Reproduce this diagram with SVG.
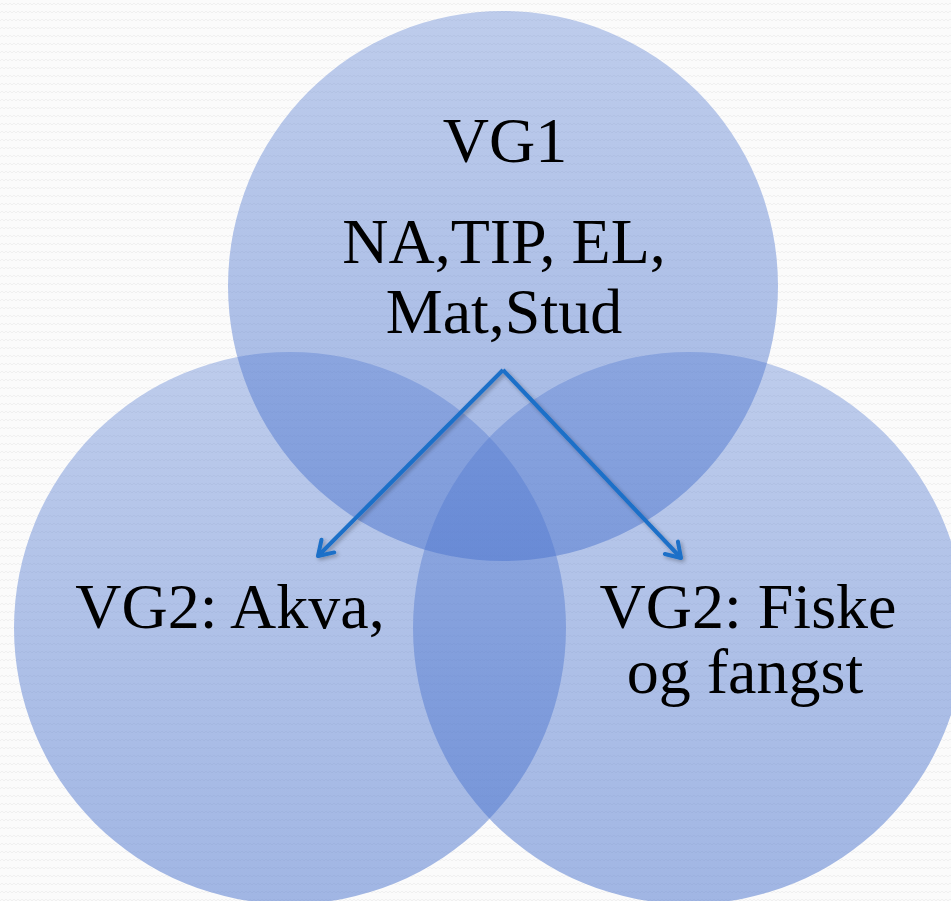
<svg xmlns="http://www.w3.org/2000/svg" width="951" height="901" viewBox="0 0 951 901">
  <defs>
    <pattern id="bgpat" width="8" height="8" patternUnits="userSpaceOnUse">
      <rect width="8" height="8" fill="#fbfbfb"/>
      <path d="M0,5 L2,3 L4,5 L6,3 L8,5" fill="none" stroke="#f0f0f0" stroke-width="1"/>
    </pattern>
    <linearGradient id="cg" x1="0" y1="0" x2="0" y2="1">
      <stop offset="0" stop-color="#5078d0" stop-opacity="0.36"/>
      <stop offset="1" stop-color="#4670cc" stop-opacity="0.5"/>
    </linearGradient>
    <marker id="arr" markerUnits="userSpaceOnUse" markerWidth="24" markerHeight="24" refX="20" refY="12" orient="auto">
      <path d="M6,3 L20,12 L6,21" fill="none" stroke="#1b6fc8" stroke-width="4" stroke-linecap="round" stroke-linejoin="round"/>
    </marker>
    <filter id="sh" x="-10%" y="-10%" width="120%" height="120%">
      <feGaussianBlur in="SourceAlpha" stdDeviation="2"/>
      <feOffset dx="2" dy="2" result="b"/>
      <feComponentTransfer><feFuncA type="linear" slope="0.3"/></feComponentTransfer>
      <feMerge><feMergeNode/><feMergeNode in="SourceGraphic"/></feMerge>
    </filter>
  </defs>
  <style>
    .c { fill: url(#cg); }
    .t { font-family: "Liberation Serif", "DejaVu Serif", serif; font-size: 64px; fill: #000; text-anchor: middle; }
    .conn { fill: none; stroke: #1b6fc8; stroke-width: 4; }
  </style>
  <rect width="951" height="901" fill="url(#bgpat)"/>
  <g id="node-vg1">
    <circle class="c" cx="503" cy="286" r="275"/>
  </g>
  <g id="node-akva">
    <circle class="c" cx="290" cy="628" r="276"/>
  </g>
  <g id="node-fiske">
    <circle class="c" cx="689" cy="628" r="276"/>
  </g>
  <g id="connectors" filter="url(#sh)">
    <path class="conn" d="M503,370 L318,556" marker-end="url(#arr)"/>
    <path class="conn" d="M503,370 L681,558" marker-end="url(#arr)"/>
  </g>
  <g id="labels">
    <text class="t" x="505" y="162">VG1</text>
    <text class="t" x="504" y="263">NA,TIP, EL,</text>
    <text class="t" x="504" y="333">Mat,Stud</text>
    <text class="t" x="230" y="628">VG2: Akva,</text>
    <text class="t" x="748" y="628">VG2: Fiske</text>
    <text class="t" x="745" y="693">og fangst</text>
  </g>
</svg>
